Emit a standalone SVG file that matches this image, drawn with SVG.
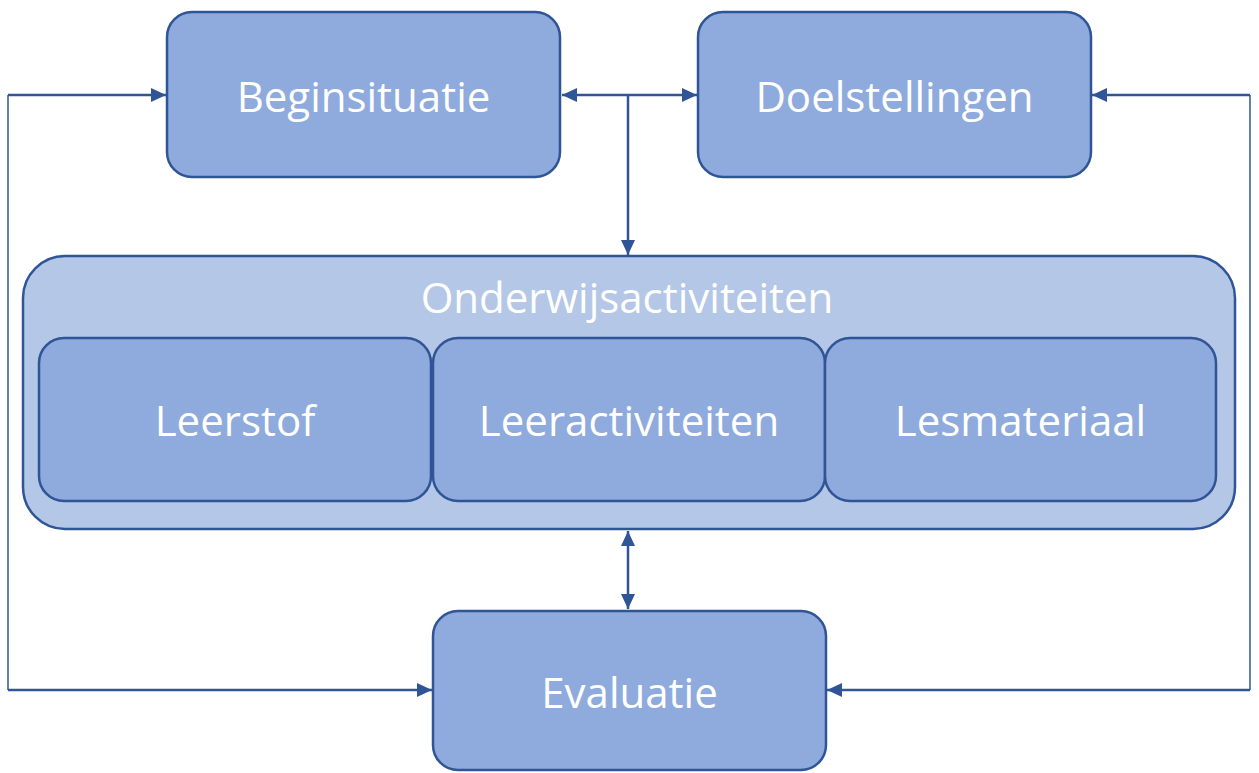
<svg xmlns="http://www.w3.org/2000/svg" width="1259" height="773" viewBox="0 0 1259 773">
<style>
.box{fill:#8FAADC;stroke:#2F5597;stroke-width:2.5}
.outer{fill:#B4C7E7;stroke:#2F5597;stroke-width:2.5}
.lbl{fill:#FFFFFF;font-family:"Open Sans","Noto Sans",sans-serif;font-size:42px;text-anchor:middle;dominant-baseline:central}
.c{fill:none;stroke:#2F5597;stroke-width:2.5}
.thin{fill:none;stroke:#2F5597;stroke-width:1.5}
</style>
<defs>
<marker id="ah" viewBox="0 0 15 14" refX="15" refY="7" markerWidth="15" markerHeight="14" markerUnits="userSpaceOnUse" orient="auto-start-reverse">
<path d="M0,0 L15,7 L0,14 Z" fill="#2F5597"/>
</marker>
</defs>
<g id="connectors">
<path class="c" d="M562,95 H697" marker-start="url(#ah)" marker-end="url(#ah)"/>
<path class="c" d="M628,95 V255"  marker-end="url(#ah)"/>
<path class="c" d="M628,531 V609" marker-start="url(#ah)" marker-end="url(#ah)"/>
<path class="thin" d="M8,690 V95"/>
<path class="c" d="M8,95 H166" marker-end="url(#ah)"/>
<path class="c" d="M8,690 H432" marker-end="url(#ah)"/>
<path class="thin" d="M1250,95 V690"/>
<path class="c" d="M1250,95 H1092" marker-end="url(#ah)"/>
<path class="c" d="M1250,690 H827" marker-end="url(#ah)"/>
</g>
<g id="beginsituatie">
<rect class="box" x="167" y="12" width="393" height="165" rx="25"/>
<text class="lbl" x="363.5" y="95">Beginsituatie</text>
</g>
<g id="doelstellingen">
<rect class="box" x="698" y="12" width="393" height="165" rx="25"/>
<text class="lbl" x="894.5" y="95">Doelstellingen</text>
</g>
<g id="onderwijsactiviteiten">
<rect class="outer" x="23" y="256" width="1212" height="273" rx="42"/>
<text class="lbl" x="627" y="296">Onderwijsactiviteiten</text>
</g>
<g id="leerstof">
<rect class="box" x="39" y="338" width="392" height="163" rx="25"/>
<text class="lbl" x="235" y="419">Leerstof</text>
</g>
<g id="leeractiviteiten">
<rect class="box" x="433" y="338" width="392" height="163" rx="25"/>
<text class="lbl" x="629" y="419">Leeractiviteiten</text>
</g>
<g id="lesmateriaal">
<rect class="box" x="825" y="338" width="391" height="163" rx="25"/>
<text class="lbl" x="1020.5" y="419">Lesmateriaal</text>
</g>
<g id="evaluatie">
<rect class="box" x="433" y="611" width="393" height="159" rx="25"/>
<text class="lbl" x="629.5" y="691">Evaluatie</text>
</g>
</svg>
